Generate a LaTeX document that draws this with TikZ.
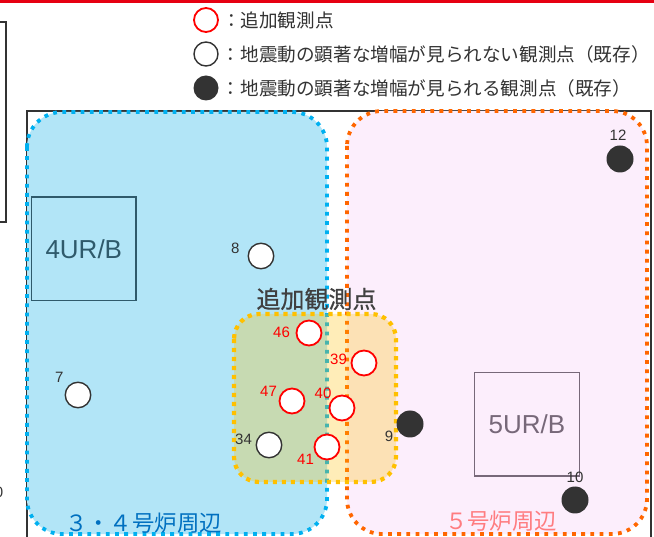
\documentclass[tikz,border=0pt]{standalone}
\usepackage{fontspec}
\setmainfont{Liberation Sans}
\newfontfamily\jpfont{Noto Sans CJK JP}
\newfontfamily\jphead[FakeBold=0.6]{Noto Sans CJK JP}
\usepackage{xcolor}
\usepackage{tikz}
\usetikzlibrary{positioning}
\definecolor{ink}{HTML}{333333}
\definecolor{topred}{HTML}{E60012}
\definecolor{newred}{HTML}{FF0000}
\definecolor{skyfill}{HTML}{B2E5F7}
\definecolor{skyline}{HTML}{00B0F0}
\definecolor{skytext}{HTML}{0070C0}
\definecolor{pinkfill}{HTML}{FCEEFC}
\definecolor{orangeline}{HTML}{FF6600}
\definecolor{pinktext}{HTML}{FF7C80}
\definecolor{amber}{HTML}{FFC000}
\definecolor{unitfour}{HTML}{2F5A6B}
\definecolor{unitfive}{HTML}{776879}
\definecolor{headgray}{HTML}{404040}
\tikzset{
  frame/.style    = {draw=ink, line width=2pt},
  zone/.style     = {rounded corners=35pt, line width=3.8pt, dash pattern=on 3.8pt off 5.4pt},
  spot/.style     = {rounded corners=25pt, line width=4.2pt, dash pattern=on 4.2pt off 4.8pt},
  unitbox/.style  = {draw, rectangle, line width=1.2pt, minimum width=104.5pt, minimum height=103.5pt,
                     inner sep=0pt, font=\fontsize{26}{26}\selectfont},
  stnnew/.style   = {circle, draw=newred, line width=1.8pt, fill=white, minimum size=25pt, inner sep=0pt},
  stnold/.style   = {circle, draw=ink, line width=1.4pt, fill=white, minimum size=25.5pt, inner sep=0pt},
  stnamp/.style   = {circle, fill=ink, minimum size=27pt, inner sep=0pt},
  num/.style      = {font=\fontsize{15}{15}\selectfont, text=ink, inner sep=0pt},
  numnew/.style   = {num, text=newred},
  area/.style     = {font=\jpfont\fontsize{22.4}{22.4}\selectfont, inner sep=0pt},
  head/.style     = {font=\jphead\fontsize{24}{24}\selectfont, text=headgray, inner sep=0pt},
  legend/.style   = {font=\jpfont\fontsize{18.6}{18.6}\selectfont, text=ink, inner sep=0pt},
}
\begin{document}
\begin{tikzpicture}[x=1pt, y=-1pt]
  \useasboundingbox (0,0) rectangle (654,537);
  \fill[white] (0,0) rectangle (654,537);
  \fill[topred] (0,0) rectangle (654,3);
  \draw[ink, line width=1.5pt] (-5,22) -- (6,22) -- (6,222) -- (-5,222);
  \node[num] (cut) at (-1,492) {0};
  \draw[frame] (27,111) rectangle (651,560);

  \path[zone, fill=skyfill, draw=skyline] (27,112) rectangle (327,534);
  \path[zone, fill=pinkfill, draw=orangeline] (347,111) rectangle (647,534);
  \fill[amber, fill opacity=0.28, rounded corners=25pt] (234,314) rectangle (396,482);
  \draw[spot, draw=amber] (234,314) rectangle (396,482);

  \node[unitbox, draw=unitfour, text=unitfour] (u4) at (83.8,248.8) {4UR/B};
  \node[unitbox, draw=unitfive, text=unitfive] (u5) at (527,424.3) {5UR/B};

  \node[head] (addhead) at (316.5,299) {追加観測点};

  \node[stnold] (p8)  at (261,256) {};
  \node[stnold] (p7)  at (78,395) {};
  \node[stnold] (p34) at (269,445) {};
  \node[stnnew] (p46) at (309,333) {};
  \node[stnnew] (p39) at (364,363) {};
  \node[stnnew] (p47) at (292,401) {};
  \node[stnnew] (p40) at (342,408) {};
  \node[stnnew] (p41) at (327,447) {};
  \node[stnamp] (p9)  at (410,424) {};
  \node[stnamp] (p12) at (620,159) {};
  \node[stnamp] (p10) at (575,500) {};

  \node[num, left=8pt of p8, yshift=8pt]        (n8)  {8};
  \node[num, left=1pt of p7, yshift=17.5pt]     (n7)  {7};
  \node[num, left=3.5pt of p34, yshift=5.5pt]   (n34) {34};
  \node[numnew, left=5.5pt of p46, yshift=1pt]  (n46) {46};
  \node[numnew, left=3.5pt of p39, yshift=4pt]  (n39) {39};
  \node[numnew, left=1.5pt of p47, yshift=10pt] (n47) {47};
  \node[numnew, left=-3pt of p40, yshift=15pt]  (n40) {40};
  \node[numnew, left=-0.5pt of p41, yshift=-12.5pt] (n41) {41};
  \node[num, left=3pt of p9, yshift=-12.5pt]    (n9)  {9};
  \node[num, above=4.5pt of p12, xshift=-2pt]   (n12) {12};
  \node[num, above=3pt of p10]                  (n10) {10};

  \node[area, text=skytext] (lbl34) at (143.5,523) {３・４号炉周辺};
  \node[area, text=pinktext] (lbl5) at (501,521) {５号炉周辺};

  \node[stnnew, minimum size=24pt] (key1) at (206,20) {};
  \node[stnold, minimum size=24pt] (key2) at (206,54) {};
  \node[stnamp, minimum size=25pt] (key3) at (206,88) {};
  \node[legend, right=3pt of key1] (key1txt) {：追加観測点};
  \node[legend, right=3pt of key2] (key2txt) {：地震動の顕著な増幅が見られない観測点（既存）};
  \node[legend, right=3pt of key3] (key3txt) {：地震動の顕著な増幅が見られる観測点（既存）};
\end{tikzpicture}
\end{document}
